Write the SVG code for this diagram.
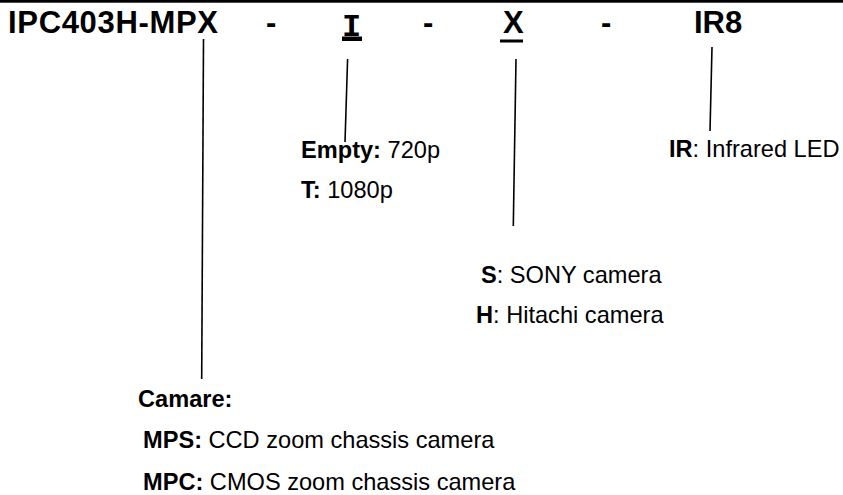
<svg xmlns="http://www.w3.org/2000/svg" width="843" height="495" viewBox="0 0 843 495">
<style>
  .title { font-family: "Liberation Sans", Arial, sans-serif; font-weight: bold; font-size: 31px; fill: #000; }
  .mono { font-family: "Liberation Mono", "Courier New", monospace; font-weight: bold; font-size: 32px; fill: #000; }
  .lbl { font-family: "Liberation Sans", Arial, sans-serif; font-size: 23.6px; fill: #000; }
  .b { font-weight: bold; }
  .conn line { stroke: #000; stroke-width: 1.6; }
</style>
<rect x="0" y="0" width="843" height="2.7" fill="#000"/>
<g id="header">
  <text class="title" x="8" y="33" textLength="210" lengthAdjust="spacing">IPC403H-MPX</text>
  <text class="title" x="266" y="33">-</text>
  <text class="mono" x="342" y="36">I</text>
  <rect x="342" y="36.5" width="20" height="4.5" fill="#000"/>
  <text class="title" x="423" y="33">-</text>
  <text class="title" x="503" y="33">X</text>
  <rect x="500" y="39.5" width="23" height="3" fill="#000"/>
  <text class="title" x="601" y="33">-</text>
  <text class="title" x="694" y="33">IR8</text>
</g>
<g id="connectors" class="conn">
  <line x1="203.5" y1="39" x2="201.7" y2="379"/>
  <line x1="347.6" y1="59" x2="345" y2="142"/>
  <line x1="516" y1="59" x2="513.3" y2="226"/>
  <line x1="712" y1="47" x2="710" y2="131"/>
</g>
<g id="node-resolution">
  <text class="lbl" x="301" y="158"><tspan class="b">Empty:</tspan> 720p</text>
  <text class="lbl" x="301" y="198"><tspan class="b">T:</tspan> 1080p</text>
</g>
<g id="node-ir">
  <text class="lbl" x="669" y="157"><tspan class="b">IR</tspan>: Infrared LED</text>
</g>
<g id="node-sensor">
  <text class="lbl" x="481" y="283"><tspan class="b">S</tspan>: SONY camera</text>
  <text class="lbl" x="476" y="323"><tspan class="b">H</tspan>: Hitachi camera</text>
</g>
<g id="node-camera">
  <text class="lbl b" x="138" y="407">Camare:</text>
  <text class="lbl" x="143" y="448"><tspan class="b">MPS:</tspan> CCD zoom chassis camera</text>
  <text class="lbl" x="143" y="490"><tspan class="b">MPC:</tspan> CMOS zoom chassis camera</text>
</g>
</svg>
